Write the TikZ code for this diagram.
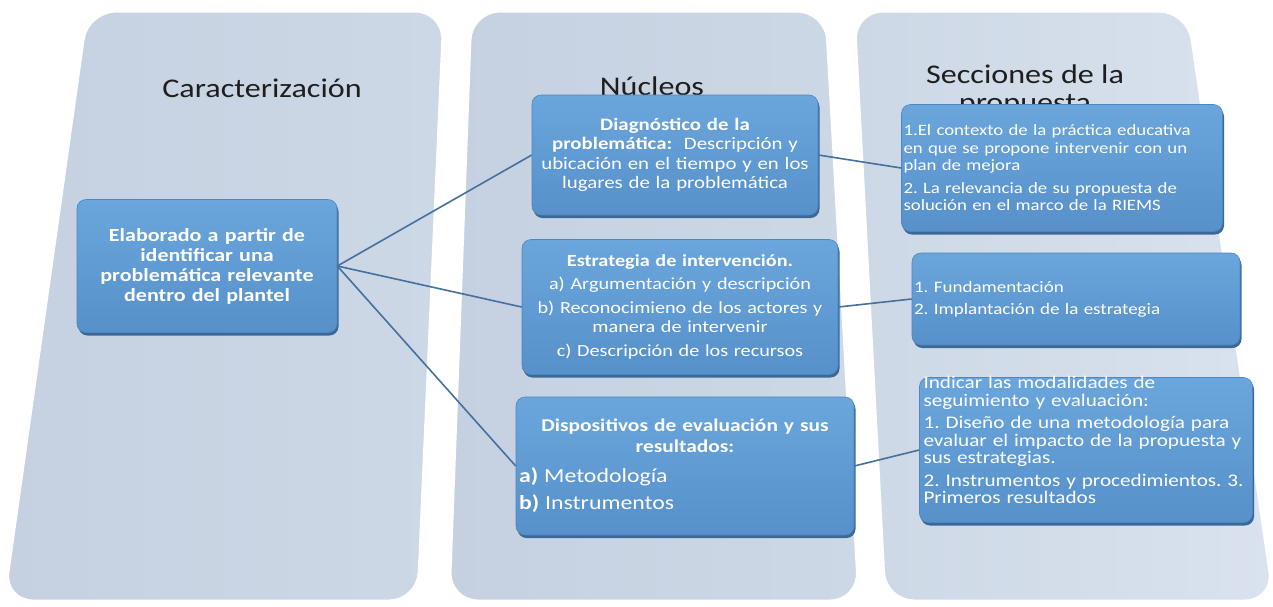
\documentclass[tikz,border=0pt]{standalone}
\usepackage{fontspec}
\setmainfont{Carlito}[FakeStretch=1.19]
\usepackage{tikz}
\usetikzlibrary{positioning, shadows, calc}
\frenchspacing

\definecolor{colleft}{HTML}{C5D1E1}
\definecolor{colright}{HTML}{CDD8E6}
\definecolor{colpale}{HTML}{D9E2EE}
\definecolor{boxtop}{HTML}{6AA6DC}
\definecolor{boxbot}{HTML}{5790CA}
\definecolor{boxedge}{HTML}{4E86BE}
\definecolor{boxdark}{HTML}{3C6896}
\definecolor{linkblue}{HTML}{46709E}
\definecolor{titletext}{HTML}{1E1E1E}

\begin{document}
\begin{tikzpicture}[x=1pt, y=-1pt,
		column/.style={left color=colleft, right color=colright, draw=white, line width=1pt, rounded corners=28pt},
		title/.style={font=\fontsize{27}{28}\selectfont, text=titletext, align=center},
		block/.style={rounded corners=9pt, top color=boxtop, bottom color=boxbot, draw=boxedge, line width=0.6pt,
			text=white, inner sep=3pt,
			drop shadow={shadow xshift=1.5pt, shadow yshift=-3pt, fill=boxdark, opacity=1}},
		link/.style={draw=linkblue, line width=1.6pt}
		]
	\useasboundingbox (0,0) rectangle (1273,606);

	% --- Colonnes de fond ---
	\shade[column] (88,12) -- (443,12) -- (417,600) -- (5,600) -- cycle;
	\shade[column] (472,12) -- (825,12) -- (858,600) -- (450,600) -- cycle;
	\shade[column, left color=colright, right color=colpale] (855,12) -- (1187,12) -- (1273,600) -- (886,600) -- cycle;

	% --- Titres ---
	\node[title] (tcar) at (262,88) {Caracterización};
	\node[title] (tnuc) at (652,86) {Núcleos};
	\node[title] (tsec) at (1025,90) {Secciones de la\\propuesta};

	% --- Caractérisation ---
	\node[block, minimum width=260pt, minimum height=133pt, text width=254pt, align=center,
		font=\bfseries\fontsize{18.5}{20}\selectfont] (elab) at (207,266)
		{Elaborado a partir de\\ identificar una\\ problemática relevante\\ dentro del plantel};

	% --- Noyaux ---
	\node[block, minimum width=284pt, minimum height=120pt, text width=280pt, align=center,
		font=\fontsize{17.5}{19.5}\selectfont] (diag) at (675,155)
		{\textbf{Diagnóstico de la}\\ \textbf{problemática:}~ Descripción y\\ ubicación en el tiempo y en los\\ lugares de la problemática};
	\node[block, minimum width=314pt, minimum height=135pt, text width=310pt, align=center,
		font=\fontsize{17}{19}\selectfont] (estr) at (680,307)
		{\textbf{Estrategia de intervención.}\\[4pt] a) Argumentación y descripción\\[5pt] b) Reconocimieno de los actores y\\ manera de intervenir\\[5pt] c) Descripción de los recursos};
	\node[block, minimum width=336pt, minimum height=138pt, text width=332pt,
		font=\fontsize{18}{21}\selectfont] (disp) at (685,466)
		{{\centering\bfseries Dispositivos de evaluación y sus\\ resultados:\par}
		\vspace{6pt}\raggedright\fontsize{20}{24}\selectfont \textbf{a)} Metodología\\[6pt] \textbf{b)} Instrumentos};

	% --- Sections de la proposition ---
	\node[block, minimum width=321pt, minimum height=127pt, text width=317pt, align=left,
		font=\fontsize{15.8}{17.5}\selectfont, inner sep=2pt] (ctx) at (1062,168)
		{1.El contexto de la práctica educativa\\ en que se propone intervenir con un\\ plan de mejora\\[5pt] 2. La relevancia de su propuesta de\\ solución en el marco de la RIEMS};
	\node[block, minimum width=328pt, minimum height=92pt, text width=324pt, align=left,
		font=\fontsize{16}{18}\selectfont, inner sep=2pt] (fund) at (1076,299)
		{1. Fundamentación\\[4pt] 2. Implantación de la estrategia};
	\node[block, minimum width=333pt, minimum height=145pt] (segu) at (1086,450) {};
	\node[text=white, text width=329pt, align=left, inner sep=0pt,
		font=\fontsize{17.8}{17.5}\selectfont] (segutxt) at (1088,440)
		{Indicar las modalidades de\\ seguimiento y evaluación:\\[5pt] 1. Diseño de una metodología para\\ evaluar el impacto de la propuesta y\\ sus estrategias.\\[5pt] 2. Instrumentos y procedimientos. 3.\\ Primeros resultados};

	% --- Liens ---
	\draw[link] (elab.east) -- (diag.west);
	\draw[link] (elab.east) -- (estr.west);
	\draw[link] (elab.east) -- (disp.west);
	\draw[link] (diag.east) -- (ctx.west);
	\draw[link] (estr.east) -- (fund.west);
	\draw[link] (disp.east) -- (segu.west);

\end{tikzpicture}
\end{document}
